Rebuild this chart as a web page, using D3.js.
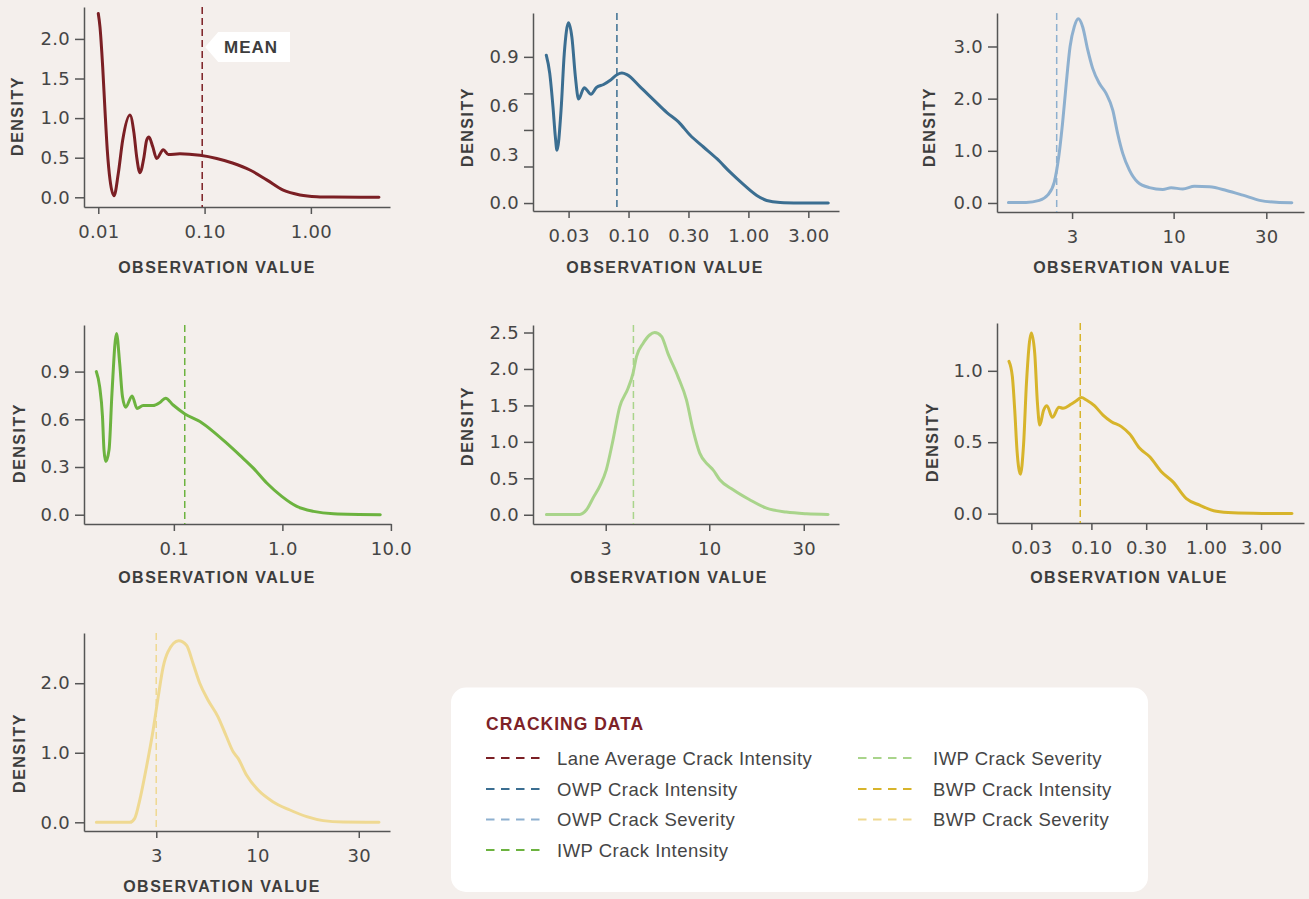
<!DOCTYPE html>
<html>
<head>
<meta charset="utf-8">
<script src="https://cdn.jsdelivr.net/npm/d3@7"></script>
<style>
  html, body { margin: 0; padding: 0; background: #f4efec; }
  svg { display: block; }
  .tick text { font-family: "DejaVu Sans", sans-serif; font-size: 18px; fill: #454545; letter-spacing: 0.3px; }
  .axis-title { font-family: "Liberation Sans", Arial, sans-serif; font-weight: bold; font-size: 16px; fill: #3d3d3d; letter-spacing: 1.5px; }
  .legend-text { font-family: "Liberation Sans", Arial, sans-serif; font-size: 18.5px; fill: #454545; letter-spacing: 0.5px; }
  .legend-title { font-family: "Liberation Sans", Arial, sans-serif; font-weight: bold; font-size: 17.5px; fill: #7d2228; letter-spacing: 1px; }
</style>
</head>
<body>
<svg id="chart" width="1309" height="899"></svg>
<script>
// ---------- series ----------
const seriesNames = [
  "Lane Average Crack Intensity", "OWP Crack Intensity", "OWP Crack Severity",
  "IWP Crack Intensity", "IWP Crack Severity", "BWP Crack Intensity", "BWP Crack Severity"
];
const seriesColors = ["#7b1f24", "#3b6e91", "#8eb0cf", "#6cb33f", "#a9d48b", "#d7b42b", "#efd992"];
const meanValues = [0.095, 0.080, 2.50, 0.126, 4.14, 0.080, 3.16];

// ---------- density curves (observation value, density) ----------
const laneIntensityX = [0.0100, 0.01038, 0.0110, 0.01156, 0.01215, 0.0129, 0.01406, 0.01542, 0.01696, 0.01986, 0.02167, 0.02297, 0.02467, 0.02692, 0.0285, 0.0300, 0.0325, 0.0354, 0.0409, 0.0456, 0.0587, 0.0905, 0.130, 0.186, 0.267, 0.384, 0.549, 0.789, 1.135, 1.625, 4.37];
const laneIntensityY = [2.32, 2.15, 1.65, 1.10, 0.60, 0.22, 0.02, 0.30, 0.72, 1.04, 0.81, 0.51, 0.31, 0.51, 0.72, 0.76, 0.64, 0.49, 0.60, 0.54, 0.55, 0.53, 0.49, 0.43, 0.345, 0.22, 0.09, 0.03, 0.008, 0.003, 0];

const owpIntensityX = [0.0206, 0.0220, 0.02344, 0.0245, 0.0253, 0.02735, 0.0291, 0.0316, 0.0337, 0.0360, 0.0383, 0.0427, 0.0486, 0.0538, 0.0619, 0.0704, 0.080, 0.088, 0.097, 0.125, 0.161, 0.209, 0.261, 0.327, 0.422, 0.546, 0.704, 0.908, 1.175, 1.42, 1.84, 2.70, 4.64];
const owpIntensityY = [0.91, 0.80, 0.59, 0.41, 0.325, 0.57, 0.92, 1.11, 1.02, 0.78, 0.64, 0.71, 0.67, 0.71, 0.73, 0.756, 0.79, 0.80, 0.79, 0.715, 0.637, 0.557, 0.50, 0.417, 0.345, 0.273, 0.19, 0.115, 0.047, 0.016, 0.004, 0.001, 0];

const owpSeverityX = [1.41, 1.74, 2.035, 2.245, 2.43, 2.56, 2.68, 2.79, 2.93, 3.08, 3.23, 3.40, 3.61, 3.83, 4.15, 4.49, 4.86, 5.15, 5.47, 5.92, 6.53, 7.50, 8.79, 9.71, 11.15, 12.8, 15.3, 18.7, 22.7, 27.7, 33.8, 40.6];
const owpSeverityY = [0.01, 0.01, 0.05, 0.15, 0.40, 0.88, 1.53, 2.23, 3.0, 3.38, 3.53, 3.38, 2.94, 2.58, 2.29, 2.10, 1.78, 1.33, 0.95, 0.63, 0.40, 0.295, 0.26, 0.29, 0.27, 0.32, 0.31, 0.24, 0.15, 0.05, 0.013, 0.005];

const iwpIntensityX = [0.0193, 0.0207, 0.0220, 0.0227, 0.0236, 0.0253, 0.0269, 0.0296, 0.0317, 0.0336, 0.0360, 0.0412, 0.0458, 0.0521, 0.0644, 0.0743, 0.0838, 0.0985, 0.1264, 0.1738, 0.2307, 0.3066, 0.4066, 0.540, 0.718, 0.987, 1.358, 1.933, 2.958, 7.98];
const iwpIntensityY = [0.90, 0.806, 0.617, 0.41, 0.335, 0.41, 0.764, 1.14, 0.95, 0.743, 0.676, 0.747, 0.668, 0.686, 0.686, 0.705, 0.733, 0.69, 0.634, 0.586, 0.523, 0.45, 0.373, 0.293, 0.199, 0.115, 0.052, 0.021, 0.006, 0];

const iwpSeverityX = [1.505, 2.22, 2.40, 2.59, 2.82, 3.02, 3.24, 3.53, 3.89, 4.12, 4.29, 4.63, 5.00, 5.30, 5.73, 6.19, 6.95, 7.67, 8.28, 8.95, 9.86, 10.45, 11.3, 13.2, 16.0, 19.45, 24.5, 31.0, 39.8];
const iwpSeverityY = [0.005, 0.005, 0.068, 0.23, 0.41, 0.616, 0.98, 1.48, 1.735, 1.94, 2.17, 2.35, 2.466, 2.50, 2.45, 2.21, 1.895, 1.575, 1.164, 0.845, 0.685, 0.616, 0.48, 0.342, 0.205, 0.091, 0.037, 0.014, 0.005];

const bwpIntensityX = [0.01916, 0.0205, 0.0215, 0.0225, 0.0241, 0.0257, 0.0272, 0.0300, 0.0321, 0.0339, 0.0355, 0.0384, 0.0410, 0.0457, 0.0522, 0.0566, 0.0670, 0.0740, 0.0818, 0.0905, 0.1068, 0.1262, 0.1494, 0.1825, 0.2156, 0.2634, 0.322, 0.4069, 0.5134, 0.6716, 0.877, 1.225, 1.710, 3.34, 5.58];
const bwpIntensityY = [1.066, 0.96, 0.726, 0.445, 0.276, 0.49, 0.913, 1.265, 1.124, 0.773, 0.62, 0.726, 0.756, 0.674, 0.745, 0.738, 0.768, 0.79, 0.813, 0.796, 0.754, 0.69, 0.644, 0.609, 0.557, 0.457, 0.398, 0.293, 0.222, 0.105, 0.059, 0.016, 0.005, 0.001, 0];

const bwpSeverityX = [1.60, 2.34, 2.475, 2.62, 2.83, 3.05, 3.23, 3.42, 3.61, 4.08, 4.46, 4.81, 5.19, 5.70, 6.38, 7.03, 7.58, 8.02, 8.82, 10.07, 11.9, 14.45, 17.5, 21.1, 26.5, 39.8];
const bwpSeverityY = [0, 0, 0.057, 0.32, 0.80, 1.325, 1.80, 2.235, 2.45, 2.61, 2.545, 2.28, 1.995, 1.756, 1.517, 1.23, 1.014, 0.919, 0.68, 0.464, 0.297, 0.177, 0.081, 0.024, 0.004, 0];

// ---------- axis ticks and labels ----------
const laneXTicks = [0.01, 0.1, 1];              const laneXLabels = ["0.01", "0.10", "1.00"];
const laneYTicks = [0, 0.5, 1, 1.5, 2];
const owpIntXTicks = [0.03162, 0.1, 0.3162, 1, 3.162]; const owpIntXLabels = ["0.03", "0.10", "0.30", "1.00", "3.00"];
const owpIntYMarks = [0, 0.225, 0.45, 0.675, 0.9]; const owpIntYTicks = [0, 0.3, 0.6, 0.9];
const owpSevXTicks = [3, 10, 30];               const owpSevXLabels = ["3", "10", "30"];
const owpSevYTicks = [0, 1, 2, 3];
const iwpIntXTicks = [0.1, 1, 10];              const iwpIntXLabels = ["0.1", "1.0", "10.0"];
const iwpIntYTicks = [0, 0.3, 0.6, 0.9];
const iwpSevXTicks = [3, 10, 30];               const iwpSevXLabels = ["3", "10", "30"];
const iwpSevYTicks = [0, 0.5, 1, 1.5, 2, 2.5];
const bwpIntXTicks = [0.03, 0.1, 0.3, 1, 3];    const bwpIntXLabels = ["0.03", "0.10", "0.30", "1.00", "3.00"];
const bwpIntYTicks = [0, 0.5, 1];
const bwpSevXTicks = [3.162, 10, 31.62];        const bwpSevXLabels = ["3", "10", "30"];
const bwpSevYTicks = [0, 1, 2];

// ---------- panel layout ----------
const panels = [
  { xs: laneIntensityX, ys: laneIntensityY, left: 84, right: 390, top: 7, bottom: 207,
    xDomain: [0.00734, 5.55], yDomain: [-0.1225, 2.403],
    xTicks: laneXTicks, xLabels: laneXLabels, yTicks: laneYTicks, yMarks: laneYTicks,
    titleX: 217, titleY: 273, densX: 17, densY: 116 },
  { xs: owpIntensityX, ys: owpIntensityY, left: 533, right: 839, top: 13, bottom: 211,
    xDomain: [0.01596, 5.70], yDomain: [-0.049, 1.17],
    xTicks: owpIntXTicks, xLabels: owpIntXLabels, yTicks: owpIntYTicks, yMarks: owpIntYMarks,
    titleX: 665, titleY: 273, densX: 467, densY: 127 },
  { xs: owpSeverityX, ys: owpSeverityY, left: 997, right: 1304, top: 13, bottom: 212,
    xDomain: [1.232, 46.9], yDomain: [-0.173, 3.642],
    xTicks: owpSevXTicks, xLabels: owpSevXLabels, yTicks: owpSevYTicks, yMarks: owpSevYTicks,
    titleX: 1132, titleY: 273, densX: 929, densY: 127 },
  { xs: iwpIntensityX, ys: iwpIntensityY, left: 84, right: 391, top: 325, bottom: 524,
    xDomain: [0.01486, 10.02], yDomain: [-0.0584, 1.193],
    xTicks: iwpIntXTicks, xLabels: iwpIntXLabels, yTicks: iwpIntYTicks, yMarks: iwpIntYTicks,
    titleX: 217, titleY: 583, densX: 19, densY: 443 },
  { xs: iwpSeverityX, ys: iwpSeverityY, left: 533, right: 839, top: 325, bottom: 524,
    xDomain: [1.288, 45.2], yDomain: [-0.127, 2.603],
    xTicks: iwpSevXTicks, xLabels: iwpSevXLabels, yTicks: iwpSevYTicks, yMarks: iwpSevYTicks,
    titleX: 669, titleY: 583, densX: 467, densY: 426 },
  { xs: bwpIntensityX, ys: bwpIntensityY, left: 997, right: 1304, top: 323, bottom: 523,
    xDomain: [0.01507, 7.10], yDomain: [-0.066, 1.335],
    xTicks: bwpIntXTicks, xLabels: bwpIntXLabels, yTicks: bwpIntYTicks, yMarks: bwpIntYTicks,
    titleX: 1129, titleY: 583, densX: 932, densY: 442 },
  { xs: bwpSeverityX, ys: bwpSeverityY, left: 84, right: 390, top: 633, bottom: 831,
    xDomain: [1.39, 45.1], yDomain: [-0.125, 2.722],
    xTicks: bwpSevXTicks, xLabels: bwpSevXLabels, yTicks: bwpSevYTicks, yMarks: bwpSevYTicks,
    titleX: 222, titleY: 892, densX: 19, densY: 753 }
];

const svg = d3.select("#chart");
const axisColor = "#555";

function styleAxis(sel) {
  sel.selectAll(".domain").attr("stroke", axisColor).attr("stroke-width", 1.5);
  sel.selectAll(".tick line").attr("stroke", axisColor).attr("stroke-width", 1.5);
}

panels.forEach((p, i) => {
  const color = seriesColors[i];
  const g = svg.append("g").attr("class", "panel");
  const x = d3.scaleLog().domain(p.xDomain).range([p.left, p.right]);
  const y = d3.scaleLinear().domain(p.yDomain).range([p.bottom, p.top]);

  // x axis
  const xLab = new Map(p.xTicks.map((t, j) => [t, p.xLabels[j]]));
  g.append("g")
    .attr("transform", `translate(0,${p.bottom})`)
    .call(d3.axisBottom(x).tickValues(p.xTicks).tickFormat(d => xLab.get(d))
      .tickSizeInner(7).tickSizeOuter(0).tickPadding(11))
    .call(styleAxis);

  // y axis line and tick marks
  g.append("g")
    .attr("transform", `translate(${p.left},0)`)
    .call(d3.axisLeft(y).tickValues(p.yMarks).tickFormat("")
      .tickSizeInner(9).tickSizeOuter(0))
    .call(styleAxis);

  // y tick labels
  g.append("g")
    .attr("transform", `translate(${p.left},0)`)
    .call(d3.axisLeft(y).tickValues(p.yTicks).tickFormat(d3.format(".1f"))
      .tickSizeInner(0).tickSizeOuter(0).tickPadding(14))
    .call(a => a.select(".domain").remove());

  // density curve
  const pts = p.xs.map((v, j) => [v, p.ys[j]]);
  g.append("path")
    .datum(pts)
    .attr("d", d3.line().x(d => x(d[0])).y(d => y(d[1])).curve(d3.curveMonotoneX))
    .attr("fill", "none")
    .attr("stroke", color)
    .attr("stroke-width", 3)
    .attr("stroke-linecap", "round")
    .attr("stroke-linejoin", "round");

  // mean marker
  const mx = x(meanValues[i]);
  g.append("line")
    .attr("x1", mx).attr("x2", mx)
    .attr("y1", p.top).attr("y2", p.bottom)
    .attr("stroke", color)
    .attr("stroke-width", 1.5)
    .attr("stroke-dasharray", "7,4");

  // axis titles
  g.append("text")
    .attr("class", "axis-title")
    .attr("x", p.titleX).attr("y", p.titleY)
    .attr("text-anchor", "middle")
    .text("OBSERVATION VALUE");
  g.append("text")
    .attr("class", "axis-title")
    .attr("transform", `translate(${p.densX + 6},${p.densY}) rotate(-90)`)
    .attr("text-anchor", "middle")
    .text("DENSITY");

  // callout on the first panel
  if (i === 0) {
    const tipX = mx + 3, cy = 47;
    const boxL = tipX + 13, boxR = 290, boxT = 32, boxB = 62;
    g.append("path")
      .attr("d", `M${tipX},${cy} L${boxL},${boxT} L${boxR},${boxT} L${boxR},${boxB} L${boxL},${boxB} Z`)
      .attr("fill", "#ffffff");
    g.append("text")
      .attr("class", "axis-title")
      .attr("x", (boxL + boxR) / 2 - 3).attr("y", 53)
      .attr("text-anchor", "middle")
      .style("font-size", "17px")
      .style("letter-spacing", "1px")
      .text("MEAN");
  }
});

// ---------- legend ----------
const legend = svg.append("g").attr("class", "legend");
legend.append("rect")
  .attr("x", 451).attr("y", 687.5)
  .attr("width", 697).attr("height", 204.5)
  .attr("rx", 15).attr("ry", 15)
  .attr("fill", "#ffffff");
legend.append("text")
  .attr("class", "legend-title")
  .attr("x", 486).attr("y", 729.5)
  .text("CRACKING DATA");

const legendCols = [{ lineX: 486, textX: 557 }, { lineX: 858, textX: 933 }];
const rowY = [758, 789, 819.5, 850];
seriesNames.forEach((name, i) => {
  const col = i < 4 ? legendCols[0] : legendCols[1];
  const ry = rowY[i < 4 ? i : i - 4];
  legend.append("line")
    .attr("x1", col.lineX).attr("x2", col.lineX + 55)
    .attr("y1", ry).attr("y2", ry)
    .attr("stroke", seriesColors[i])
    .attr("stroke-width", 2)
    .attr("stroke-dasharray", "8.5,6.5");
  legend.append("text")
    .attr("class", "legend-text")
    .attr("x", col.textX).attr("y", ry + 6.5)
    .text(name);
});
</script>
</body>
</html>
